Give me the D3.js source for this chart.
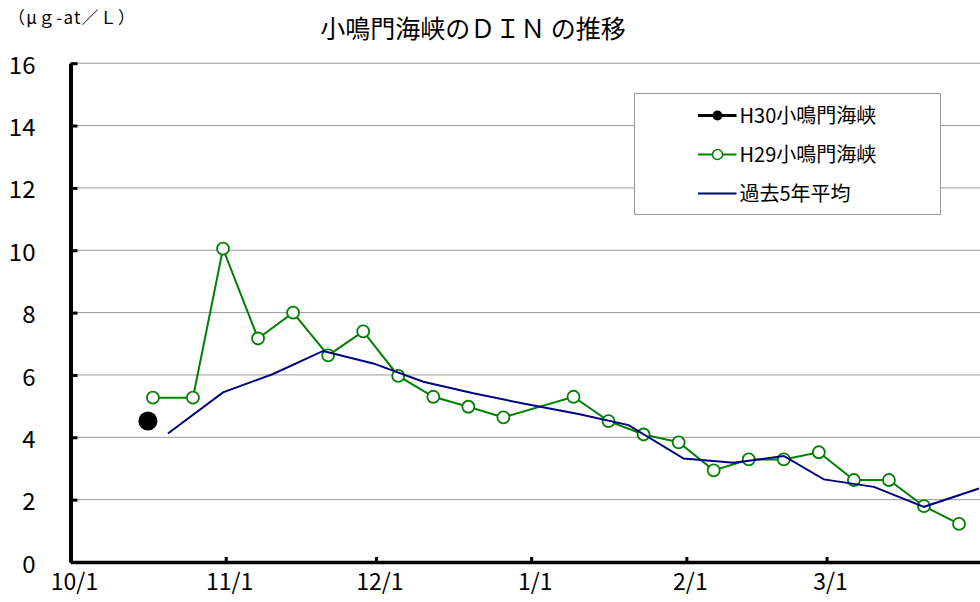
<!DOCTYPE html>
<html>
<head>
<meta charset="utf-8">
<script src="https://cdn.jsdelivr.net/npm/d3@7"></script>
<style>
  body { margin: 0; background: #fff; }
  svg { display: block; }
  text { font-family: "Liberation Sans Narrow", "Noto Sans CJK JP", sans-serif; fill: #000; }
</style>
</head>
<body>
<script>
// season Oct -> Mar, dates given as m/d
const h30Dates = ["10/16"];
const h30Values = [4.52];

const h29Dates = ["10/17", "10/25", "10/31", "11/7", "11/14", "11/21", "11/28", "12/5", "12/12", "12/19", "12/26",
                  "1/9", "1/16", "1/23", "1/30", "2/6", "2/13", "2/20", "2/27", "3/6", "3/13", "3/20", "3/27"];
const h29Values = [5.27, 5.27, 10.05, 7.17, 8.00, 6.63, 7.40, 5.97, 5.30, 4.98, 4.64,
                   5.30, 4.52, 4.09, 3.84, 2.94, 3.29, 3.29, 3.52, 2.63, 2.63, 1.79, 1.22];

const avgDates = ["10/20", "10/31", "11/10", "11/20", "11/30", "12/10", "12/20", "12/31", "1/10", "1/20", "1/31",
                  "2/10", "2/20", "2/28", "3/10", "3/20", "3/31"];
const avgValues = [4.12, 5.44, 6.03, 6.77, 6.37, 5.78, 5.41, 5.05, 4.75, 4.39, 3.32,
                   3.18, 3.40, 2.65, 2.41, 1.77, 2.36];

const yTicks = [0, 2, 4, 6, 8, 10, 12, 14, 16];
const xTickDates = ["10/1", "11/1", "12/1", "1/1", "2/1", "3/1"];
const xTickLabels = ["10/1", "11/1", "12/1", "1/1", "2/1", "3/1"];

const seriesNames = ["H30小鳴門海峡", "H29小鳴門海峡", "過去5年平均"];

// m/d -> date on a common Oct..Mar axis
function toDate(md, noon) {
  let [m, d] = md.split("/").map(Number);
  let y = m >= 10 ? 2017 : 2018;
  return new Date(y, m - 1, d, noon ? 11 : 0);
}

let width = 980, height = 602;
let margin = {left: 70.5, top: 63.2, bottom: 562};

let svg = d3.select("body").append("svg")
    .attr("width", width)
    .attr("height", height);

let xScale = d3.scaleTime()
    .domain([new Date(2017, 9, 1), new Date(2018, 3, 1)])
    .range([margin.left, margin.left + 182 * 5.007]);

let yScale = d3.scaleLinear()
    .domain([0, 16])
    .range([margin.bottom, margin.top]);

// gridlines
svg.append("g")
  .selectAll("line")
  .data(yTicks.filter(v => v > 0))
  .join("line")
    .attr("x1", margin.left)
    .attr("x2", width)
    .attr("y1", d => yScale(d))
    .attr("y2", d => yScale(d))
    .attr("stroke", "#9a9a9a")
    .attr("stroke-width", 1);

// y axis
let yAxis = d3.axisLeft(yScale)
    .tickValues(yTicks)
    .tickSizeInner(-7)
    .tickSizeOuter(0)
    .tickPadding(35);

let gy = svg.append("g")
    .attr("transform", "translate(" + margin.left + ",0)")
    .call(yAxis);
gy.select(".domain").attr("stroke", "#000").attr("stroke-width", 4);
gy.selectAll(".tick line").attr("stroke", "#000").attr("stroke-width", 3);
gy.selectAll(".tick text")
    .attr("font-family", null)
    .attr("font-size", 24)
    .attr("dy", "0.42em");

// x axis
let xAxis = d3.axisBottom(xScale)
    .tickValues(xTickDates.map(d => toDate(d, false)))
    .tickFormat((d, i) => xTickLabels[i])
    .tickSizeInner(-5)
    .tickSizeOuter(0);

let gx = svg.append("g")
    .attr("transform", "translate(0," + margin.bottom + ")")
    .call(xAxis);
gx.select(".domain").attr("stroke", "#000").attr("stroke-width", 3.5);
gx.selectAll(".tick line").attr("stroke", "#000").attr("stroke-width", 3);
gx.selectAll(".tick text")
    .attr("font-family", null)
    .attr("font-size", 23)
    .attr("y", 12)
    .attr("dx", 3.5)
    .attr("dy", "0.71em");

// series
let line = d3.line()
    .x(d => xScale(d.date))
    .y(d => yScale(d.value));

let h29 = h29Dates.map((d, i) => ({date: toDate(d, true), value: h29Values[i]}));
let avg = avgDates.map((d, i) => ({date: toDate(d, true), value: avgValues[i]}));
let h30 = h30Dates.map((d, i) => ({date: toDate(d, true), value: h30Values[i]}));

svg.append("path")
    .datum(h29)
    .attr("d", line)
    .attr("fill", "none")
    .attr("stroke", "#008000")
    .attr("stroke-width", 2);

svg.append("g")
  .selectAll("circle")
  .data(h29)
  .join("circle")
    .attr("cx", d => xScale(d.date))
    .attr("cy", d => yScale(d.value))
    .attr("r", 6)
    .attr("fill", "#fff")
    .attr("stroke", "#008000")
    .attr("stroke-width", 1.8);

svg.append("path")
    .datum(avg)
    .attr("d", line)
    .attr("fill", "none")
    .attr("stroke", "#000080")
    .attr("stroke-width", 2);

svg.append("path")
    .datum(h30)
    .attr("d", line)
    .attr("fill", "none")
    .attr("stroke", "#000")
    .attr("stroke-width", 3);

svg.append("g")
  .selectAll("circle")
  .data(h30)
  .join("circle")
    .attr("cx", d => xScale(d.date))
    .attr("cy", d => yScale(d.value))
    .attr("r", 9.5)
    .attr("fill", "#000");

// legend
let legend = svg.append("g").attr("transform", "translate(634.5,93.5)");
legend.append("rect")
    .attr("width", 306)
    .attr("height", 121)
    .attr("fill", "#fff")
    .attr("stroke", "#9a9a9a")
    .attr("stroke-width", 1);

let rows = [
  {name: seriesNames[0], color: "#000", sw: 3, marker: "filled"},
  {name: seriesNames[1], color: "#008000", sw: 2, marker: "open"},
  {name: seriesNames[2], color: "#000080", sw: 2, marker: null}
];

let item = legend.selectAll("g.item")
  .data(rows)
  .join("g")
    .attr("class", "item")
    .attr("transform", (d, i) => "translate(0," + [22, 61, 100][i] + ")");

item.append("line")
    .attr("x1", 63.5).attr("x2", 102)
    .attr("stroke", d => d.color)
    .attr("stroke-width", d => d.sw);

item.filter(d => d.marker === "filled").append("circle")
    .attr("cx", 83).attr("r", 5).attr("fill", "#000");
item.filter(d => d.marker === "open").append("circle")
    .attr("cx", 83).attr("r", 5).attr("fill", "#fff")
    .attr("stroke", "#008000").attr("stroke-width", 1.5);

item.append("text")
    .attr("x", 105)
    .attr("dy", "0.36em")
    .attr("font-size", 20)
    .text(d => d.name);

// title + unit
svg.append("text")
    .attr("x", 473)
    .attr("y", 38)
    .attr("text-anchor", "middle")
    .attr("font-size", 25)
    .style("font-family", "'Noto Sans CJK JP', sans-serif")
    .text("小鳴門海峡のＤＩＮ の推移");

svg.append("text")
    .attr("x", 8)
    .attr("y", 24)
    .attr("font-size", 17)
    .attr("textLength", 127)
    .attr("lengthAdjust", "spacing")
    .style("font-family", "'Noto Sans CJK JP', sans-serif")
    .text("（μｇ-at／Ｌ）");
</script>
</body>
</html>
